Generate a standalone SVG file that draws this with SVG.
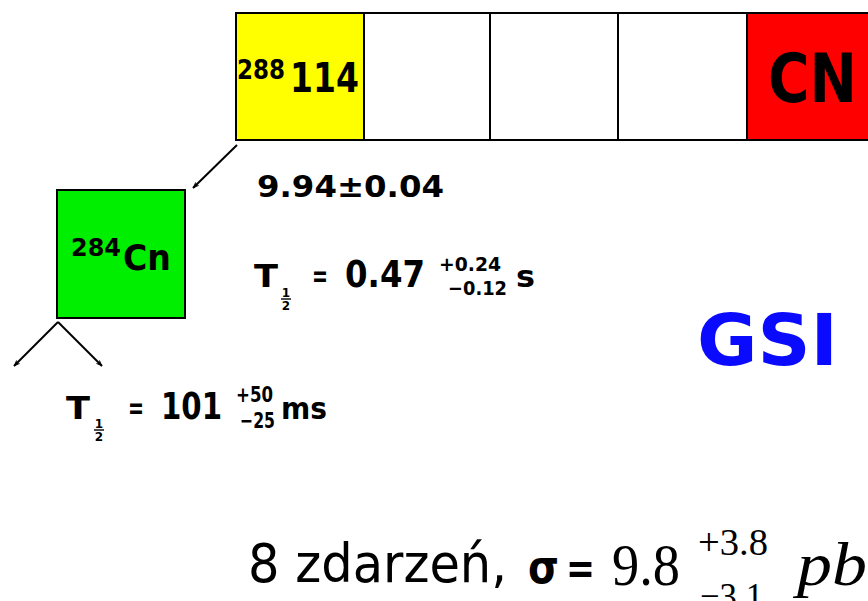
<svg xmlns="http://www.w3.org/2000/svg" width="868" height="601" viewBox="0 0 868 601">
  <defs>
    <marker id="head" viewBox="0 0 10 10" refX="9" refY="5" markerWidth="7" markerHeight="7" orient="auto" markerUnits="userSpaceOnUse">
      <path d="M0,1 L10,5 L0,9 L3,5 Z" fill="#000"/>
    </marker>
    <style>
      .cell { stroke: #000; stroke-width: 2; }
      .b { font-family: "DejaVu Sans", "Liberation Sans", sans-serif; font-weight: bold; fill: #000; }
      .r { font-family: "DejaVu Sans", "Liberation Sans", sans-serif; fill: #000; }
      .tm { font-family: "Liberation Serif", "Times New Roman", serif; fill: #000; }
      .conn { stroke: #000; stroke-width: 2; fill: none; marker-end: url(#head); }
      .bar { stroke: #000; stroke-width: 1.4; }
      .lab { fill: #0a0aff; }
    </style>
  </defs>
  <rect width="868" height="601" fill="#fff"/>

  <!-- chain of cells: 288-114 ... compound nucleus -->
  <g id="cell-288-114">
    <rect class="cell" x="236" y="13" width="128" height="127" fill="#ffff00"/>
    <text class="b" x="237" y="79" font-size="27" textLength="48" lengthAdjust="spacingAndGlyphs">288</text>
    <text class="b" x="290" y="92" font-size="41" textLength="69" lengthAdjust="spacingAndGlyphs">114</text>
  </g>
  <g id="cell-2">
    <rect class="cell" x="364" y="13" width="126" height="127" fill="#fff"/>
  </g>
  <g id="cell-3">
    <rect class="cell" x="490" y="13" width="128" height="127" fill="#fff"/>
  </g>
  <g id="cell-4">
    <rect class="cell" x="618" y="13" width="129" height="127" fill="#fff"/>
  </g>
  <g id="cell-cn">
    <rect class="cell" x="747" y="13" width="130" height="127" fill="#ff0000"/>
    <text class="b" x="768" y="102" font-size="67" textLength="89" lengthAdjust="spacingAndGlyphs">CN</text>
  </g>

  <!-- daughter 284Cn -->
  <g id="cell-284cn">
    <rect class="cell" x="57" y="190" width="128" height="128" fill="#00ee00"/>
    <text class="b" x="71" y="256" font-size="24" textLength="50" lengthAdjust="spacingAndGlyphs">284</text>
    <text class="b" x="123" y="270" font-size="36" textLength="48" lengthAdjust="spacingAndGlyphs">Cn</text>
  </g>

  <!-- decay arrows -->
  <g id="connectors">
    <line class="conn" x1="237" y1="145" x2="193" y2="188"/>
    <line class="conn" x1="58" y1="322" x2="14" y2="366"/>
    <line class="conn" x1="58" y1="322" x2="102" y2="366"/>
  </g>

  <!-- alpha energy and half-lives -->
  <g id="label-energy">
    <text class="b" x="257" y="197" font-size="31" textLength="187" lengthAdjust="spacingAndGlyphs">9.94±0.04</text>
  </g>
  <g id="label-t-114">
    <text class="b" x="254" y="287" font-size="32" textLength="24" lengthAdjust="spacingAndGlyphs">T</text>
    <text class="b" x="286" y="297" font-size="12" text-anchor="middle">1</text>
    <line class="bar" x1="281" y1="299" x2="291" y2="299"/>
    <text class="b" x="286" y="310" font-size="12" text-anchor="middle">2</text>
    <text class="b" x="312" y="286" font-size="30" textLength="16" lengthAdjust="spacingAndGlyphs">=</text>
    <text class="b" x="345" y="287" font-size="37" textLength="80" lengthAdjust="spacingAndGlyphs">0.47</text>
    <text class="b" x="439" y="271" font-size="20" textLength="62" lengthAdjust="spacingAndGlyphs">+0.24</text>
    <text class="b" x="448" y="295" font-size="20" textLength="59" lengthAdjust="spacingAndGlyphs">−0.12</text>
    <text class="b" x="516" y="287" font-size="31" textLength="19" lengthAdjust="spacingAndGlyphs">s</text>
  </g>
  <g id="label-t-cn">
    <text class="b" x="66" y="419" font-size="32" textLength="24" lengthAdjust="spacingAndGlyphs">T</text>
    <text class="b" x="99" y="428" font-size="12" text-anchor="middle">1</text>
    <line class="bar" x1="94" y1="430" x2="104" y2="430"/>
    <text class="b" x="99" y="441" font-size="12" text-anchor="middle">2</text>
    <text class="b" x="128" y="418" font-size="30" textLength="16" lengthAdjust="spacingAndGlyphs">=</text>
    <text class="b" x="161" y="419" font-size="37" textLength="61" lengthAdjust="spacingAndGlyphs">101</text>
    <text class="b" x="236" y="402" font-size="21" textLength="37" lengthAdjust="spacingAndGlyphs">+50</text>
    <text class="b" x="240" y="428" font-size="21" textLength="35" lengthAdjust="spacingAndGlyphs">−25</text>
    <text class="b" x="281" y="419" font-size="31" textLength="46" lengthAdjust="spacingAndGlyphs">ms</text>
  </g>

  <g id="label-gsi">
    <text class="b lab" x="697" y="365" font-size="72" textLength="141" lengthAdjust="spacingAndGlyphs">GSI</text>
  </g>

  <!-- cross section -->
  <g id="label-cross-section">
    <text class="r" x="248" y="582" font-size="54" textLength="259" lengthAdjust="spacingAndGlyphs">8 zdarzeń,</text>
    <text class="b" x="528" y="583" font-size="46" textLength="31" lengthAdjust="spacingAndGlyphs">σ</text>
    <text class="b" x="566" y="583" font-size="44" textLength="29" lengthAdjust="spacingAndGlyphs">=</text>
    <text class="tm" x="612" y="585" font-size="60" textLength="68" lengthAdjust="spacingAndGlyphs">9.8</text>
    <text class="tm" x="698" y="555" font-size="38" textLength="70" lengthAdjust="spacingAndGlyphs">+3.8</text>
    <text class="tm" x="700" y="609" font-size="38" textLength="63" lengthAdjust="spacingAndGlyphs">−3.1</text>
    <text class="tm" x="797" y="585" font-size="62" font-style="italic" textLength="70" lengthAdjust="spacingAndGlyphs">pb</text>
  </g>
</svg>
